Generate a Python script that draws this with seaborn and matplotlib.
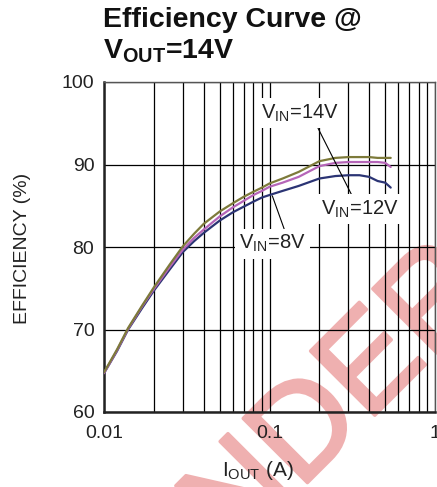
import seaborn as sns
import matplotlib
matplotlib.use("Agg")
import matplotlib.pyplot as plt
import matplotlib.patheffects as pe
import pandas as pd

# данные
iout = [0.01, 0.012, 0.014, 0.017, 0.02, 0.025, 0.03, 0.035, 0.04, 0.05, 0.06, 0.07,
        0.08, 0.09, 0.1, 0.12, 0.15, 0.2, 0.25, 0.3, 0.35, 0.4, 0.45, 0.5, 0.54]
eff_14v = [64.8, 67.6, 70.2, 72.9, 75.1, 77.9, 80.1, 81.6, 82.8, 84.3, 85.3, 86.1,
           86.7, 87.2, 87.7, 88.3, 89.1, 90.4, 90.8, 90.9, 90.9, 90.9, 90.8, 90.8, 90.8]
eff_12v = [64.7, 67.5, 70.1, 72.8, 74.9, 77.6, 79.7, 81.1, 82.1, 83.7, 84.8, 85.6,
           86.3, 86.8, 87.3, 87.8, 88.5, 89.8, 90.2, 90.3, 90.3, 90.3, 90.3, 90.2, 89.7]
eff_8v = [64.7, 67.4, 70.0, 72.6, 74.7, 77.3, 79.4, 80.7, 81.7, 83.2, 84.2, 84.9,
          85.5, 86.0, 86.3, 86.8, 87.4, 88.3, 88.6, 88.7, 88.7, 88.5, 88.0, 87.8, 87.2]
series = ['8V', '12V', '14V']
colors = ['#2b3474', '#b565b8', '#7d7a3a']
x_ticks = [0.01, 0.1, 1]
x_tick_labels = ['0.01', '0.1', '1']
y_ticks = [60, 70, 80, 90, 100]

df = pd.DataFrame({
    'iout': iout * 3,
    'eff': eff_8v + eff_12v + eff_14v,
    'vin': [s for s in series for _ in iout],
})

sns.set_style('white')
plt.rcParams['font.family'] = ['Liberation Sans', 'DejaVu Sans']
plt.rcParams['mathtext.fontset'] = 'custom'
plt.rcParams['mathtext.rm'] = 'Liberation Sans'
plt.rcParams['mathtext.it'] = 'Liberation Sans'
plt.rcParams['mathtext.bf'] = 'Liberation Sans:bold'
plt.rcParams['mathtext.default'] = 'regular'

fig = plt.figure(figsize=(4.37, 4.87), dpi=100)
ax = fig.add_axes([104 / 437, 1 - 412 / 487, 331 / 437, 330 / 487])
ax.patch.set_alpha(0)

sns.lineplot(data=df, x='iout', y='eff', hue='vin', hue_order=series,
             palette=colors, lw=1.6, legend=False, ax=ax, zorder=3)

ax.set_xscale('log')
ax.set_xlim(0.01, 1)
ax.set_ylim(60, 100)
ax.set_xticks(x_ticks)
ax.set_xticklabels(x_tick_labels)
ax.set_yticks(y_ticks)
ax.grid(which='major', axis='both', color='black', lw=0.9)
ax.grid(which='minor', axis='x', color='black', lw=0.9)
ax.tick_params(which='both', length=0, labelsize=14, colors='#222222')
ax.tick_params(axis='y', pad=7)
ax.tick_params(axis='x', pad=9)
for s in ['left', 'bottom']:
    ax.spines[s].set_linewidth(1.8)
    ax.spines[s].set_color('#222222')
for s in ['top', 'right']:
    ax.spines[s].set_linewidth(1.0)
    ax.spines[s].set_color('#555555')
ax.set_xlabel('')
ax.set_ylabel('')

box = dict(facecolor='white', edgecolor='none', pad=3)
lead = dict(arrowstyle='-', lw=0.8, color='black', shrinkA=0, shrinkB=0)
ax.annotate('V$_{IN}$=14V', xy=(0.325, 85.7), xytext=(0.152, 96.2),
            ha='center', va='center', fontsize=14.5, color='#222222', bbox=box,
            arrowprops=dict(lead, relpos=(0.71, 0)), zorder=5)
ax.text(0.353, 84.6, 'V$_{IN}$=12V', ha='center', va='center', fontsize=14.5,
        color='#222222', bbox=box, zorder=5)
ax.annotate('V$_{IN}$=8V', xy=(0.104, 86.2), xytext=(0.104, 80.4),
            ha='center', va='center', fontsize=14.5, color='#222222', bbox=box,
            arrowprops=dict(lead, relpos=(0.7, 1)), zorder=5)

fig.text(103 / 437, 1 - 7 / 487, 'Efficiency Curve @\n$\\mathbf{V_{OUT}}$=14V',
         ha='left', va='top', fontsize=20.5, fontweight='bold', color='#111111',
         linespacing=1.2)
fig.text(23 / 437, 1 - 248 / 487, 'EFFICIENCY (%)', rotation=90, ha='center',
         va='center', fontsize=14, color='#222222')
fig.text(258 / 437, 1 - 470 / 487, 'I$_{OUT}$ (A)', ha='center', va='center',
         fontsize=15, color='#222222')

# водяной знак
fig.text(165 / 437, 1 - 625 / 487, 'UNDER NDA', rotation=45, rotation_mode='anchor',
         ha='left', va='baseline', fontsize=95, color='#efb0b0', zorder=-1,
         path_effects=[pe.withStroke(linewidth=2.5, foreground='#efb0b0')])

fig.savefig('out.png', dpi=100)
